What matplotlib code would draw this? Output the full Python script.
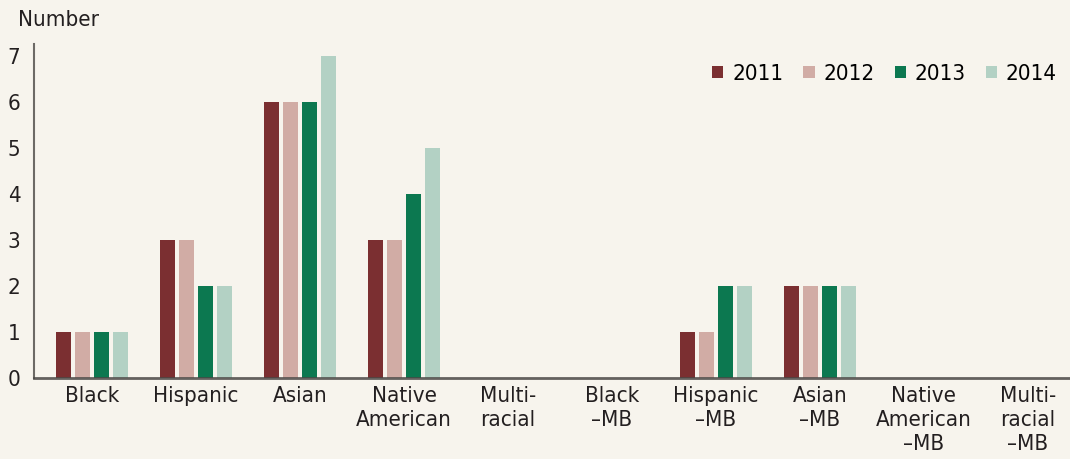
import matplotlib.pyplot as plt
import numpy as np
from matplotlib.patches import Patch

categories = ['Black', 'Hispanic', 'Asian', 'Native\nAmerican', 'Multi-\nracial',
              'Black\n\u2013MB', 'Hispanic\n\u2013MB', 'Asian\n\u2013MB',
              'Native\nAmerican\n\u2013MB', 'Multi-\nracial\n\u2013MB']
years = ['2011', '2012', '2013', '2014']
v2011 = [1, 3, 6, 3, 0, 0, 1, 2, 0, 0]
v2012 = [1, 3, 6, 3, 0, 0, 1, 2, 0, 0]
v2013 = [1, 2, 6, 4, 0, 0, 2, 2, 0, 0]
v2014 = [1, 2, 7, 5, 0, 0, 2, 2, 0, 0]
colors = ['#7b2f31', '#d1aca5', '#0c7850', '#b3d1c4']

bg = '#f7f4ed'
plt.rcParams['font.family'] = ['DejaVu Sans']
plt.rcParams['font.stretch'] = 'condensed'
plt.rcParams['font.size'] = 16

fig = plt.figure(figsize=(10.7, 4.59), dpi=100, facecolor=bg)
ax = fig.add_axes([34 / 1070, 1 - 378 / 459, 1036 / 1070, (378 - 44) / 459])
ax.set_facecolor(bg)

x = np.arange(len(categories))
w = 0.145
step = 0.183
for i, vals in enumerate([v2011, v2012, v2013, v2014]):
    ax.bar(x + (i - 1.5) * step, vals, width=w, color=colors[i], zorder=2)

ax.set_xlim(-0.558, 9.404)
ax.set_ylim(0, 7.27)
ax.set_yticks(range(8))
ax.set_xticks(x)
ax.set_xticklabels(categories, linespacing=1.25, color='#231f20')
ax.tick_params(axis='both', length=0, colors='#231f20')
ax.tick_params(axis='y', pad=19)
ax.tick_params(axis='x', pad=6)
for lbl in ax.get_yticklabels():
    lbl.set_horizontalalignment('left')
for s in ['top', 'right']:
    ax.spines[s].set_visible(False)
ax.spines['left'].set_color('#6d6a66')
ax.spines['left'].set_linewidth(1.5)
ax.spines['bottom'].set_color('#4a4745')
ax.spines['bottom'].set_alpha(0.85)
ax.spines['bottom'].set_linewidth(2)
ax.spines['bottom'].set_zorder(3)

fig.text(18 / 1070, 1 - 20 / 459, 'Number', ha='left', va='center', color='#231f20')

handles = [Patch(facecolor=c, label=y) for c, y in zip(colors, years)]
ax.legend(handles=handles, loc='upper right', ncol=4, frameon=False,
          bbox_to_anchor=(1.0, 0.98), handlelength=0.5, handleheight=0.5,
          handletextpad=0.4, columnspacing=0.9, borderaxespad=0.2)

fig.savefig('out.png', dpi=100, facecolor=bg)
